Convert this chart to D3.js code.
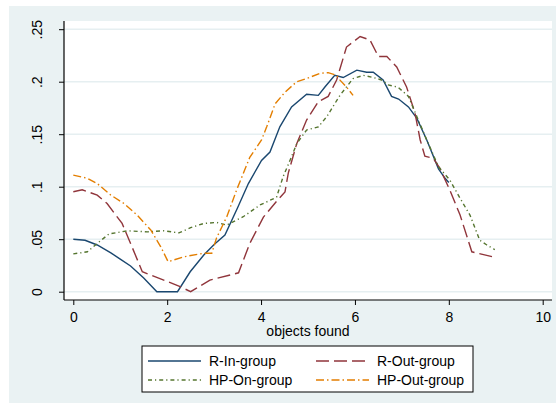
<!DOCTYPE html>
<html>
<head>
<meta charset="utf-8">
<script src="https://cdn.jsdelivr.net/npm/d3@7"></script>
<style>
  body { margin: 0; background: #fff; }
  svg { display: block; font-family: "Liberation Sans", Arial, sans-serif; }
</style>
</head>
<body>
<div id="main"></div>
<script>
// values: density of objects found
const seriesNames = ["R-In-group", "R-Out-group", "HP-On-group", "HP-Out-group"];

const rInX = [0, 0.25, 0.51, 0.8, 1.0, 1.22, 1.5, 1.78, 2.22, 2.49, 2.78, 3.0, 3.23, 3.5, 3.73, 4.01, 4.19, 4.4, 4.65, 4.97, 5.22, 5.36, 5.57, 5.75, 6.04, 6.25, 6.39, 6.6, 6.78, 6.93, 7.14, 7.32, 7.53, 7.78, 7.92, 8.0];
const rInY = [0.05, 0.049, 0.0445, 0.037, 0.031, 0.0245, 0.013, 0, 0, 0.019, 0.035, 0.045, 0.054, 0.08, 0.103, 0.125, 0.133, 0.157, 0.176, 0.188, 0.187, 0.195, 0.206, 0.204, 0.211, 0.209, 0.209, 0.2016, 0.186, 0.1835, 0.176, 0.165, 0.1445, 0.117, 0.108, 0.104];

const rOutX = [0, 0.19, 0.51, 0.72, 1.04, 1.22, 1.47, 2.25, 2.5, 2.91, 3.52, 3.76, 4.05, 4.33, 4.51, 4.58, 4.76, 4.97, 5.22, 5.43, 5.61, 5.82, 6.11, 6.32, 6.5, 6.68, 6.89, 7.1, 7.28, 7.39, 7.49, 7.67, 7.81, 8.02, 8.24, 8.49, 8.98];
const rOutY = [0.0952, 0.097, 0.092, 0.084, 0.065, 0.046, 0.019, 0.0054, 0, 0.011, 0.018, 0.046, 0.071, 0.086, 0.095, 0.113, 0.141, 0.1635, 0.181, 0.186, 0.2016, 0.233, 0.243, 0.2397, 0.224, 0.224, 0.214, 0.195, 0.17, 0.1445, 0.129, 0.127, 0.1175, 0.0969, 0.073, 0.038, 0.0327];

const hpOnX = [0, 0.3, 0.51, 0.76, 1.15, 1.58, 1.93, 2.25, 2.5, 2.78, 3.05, 3.27, 3.62, 3.98, 4.33, 4.47, 4.62, 4.76, 4.97, 5.22, 5.4, 5.68, 5.96, 6.18, 6.39, 6.57, 6.71, 6.92, 7.14, 7.32, 7.53, 7.78, 8.02, 8.24, 8.45, 8.66, 8.81, 8.98];
const hpOnY = [0.036, 0.038, 0.046, 0.055, 0.058, 0.057, 0.058, 0.056, 0.061, 0.065, 0.066, 0.0635, 0.0714, 0.0826, 0.09, 0.1095, 0.1254, 0.141, 0.154, 0.157, 0.1667, 0.187, 0.203, 0.206, 0.204, 0.2016, 0.197, 0.1947, 0.186, 0.1667, 0.1445, 0.119, 0.1064, 0.089, 0.073, 0.049, 0.0445, 0.04];

const hpOutX = [0, 0.3, 0.51, 0.8, 1.08, 1.36, 1.65, 1.86, 2.02, 2.36, 2.78, 2.95, 3.05, 3.27, 3.48, 3.76, 4.01, 4.12, 4.3, 4.51, 4.76, 4.97, 5.26, 5.43, 5.61, 5.65, 5.82, 5.96];
const hpOutY = [0.111, 0.108, 0.103, 0.092, 0.084, 0.073, 0.0588, 0.043, 0.0286, 0.0333, 0.0366, 0.0366, 0.051, 0.0714, 0.097, 0.128, 0.1445, 0.157, 0.179, 0.19, 0.2, 0.203, 0.208, 0.2086, 0.206, 0.203, 0.195, 0.187];

const xTicks = [0, 2, 4, 6, 8, 10];
const yTicks = [0, 0.05, 0.1, 0.15, 0.2, 0.25];
const yTickLabels = ["0", ".05", ".1", ".15", ".2", ".25"];
const xTitle = "objects found";

// chart parameters
const width = 556;
const height = 409;
const plot = { left: 64, right: 552, top: 21, bottom: 300 };

const colors = ["#1a476f", "#90353b", "#55752f", "#e37e00"];
const dashes = [null, "13,5", "4,3,1.2,3", "8,3,1.5,3"];

const xScale = d3.scaleLinear().domain([0, 10]).range([73.3, 542.7]);
const yScale = d3.scaleLinear().domain([0, 0.25]).range([291.7, 29.2]);

const svg = d3.select("#main")
  .append("svg")
  .attr("width", width)
  .attr("height", height);

// outer graph region
svg.append("rect")
  .attr("x", 9).attr("y", 6)
  .attr("width", width - 9).attr("height", 397)
  .attr("fill", "#eaf2f3");

// plot region
svg.append("rect")
  .attr("x", plot.left).attr("y", plot.top)
  .attr("width", plot.right - plot.left).attr("height", plot.bottom - plot.top)
  .attr("fill", "#fff");

// gridlines
svg.append("g")
  .selectAll("line")
  .data(yTicks)
  .enter()
  .append("line")
  .attr("x1", plot.left).attr("x2", plot.right)
  .attr("y1", d => yScale(d)).attr("y2", d => yScale(d))
  .attr("stroke", "#e6eff1")
  .attr("stroke-width", 1.5);

// series lines
const seriesData = [
  rInX.map((x, i) => [x, rInY[i]]),
  rOutX.map((x, i) => [x, rOutY[i]]),
  hpOnX.map((x, i) => [x, hpOnY[i]]),
  hpOutX.map((x, i) => [x, hpOutY[i]])
];

const line = d3.line()
  .x(d => xScale(d[0]))
  .y(d => yScale(d[1]));

svg.append("g")
  .selectAll("path")
  .data(seriesData)
  .enter()
  .append("path")
  .attr("d", line)
  .attr("fill", "none")
  .attr("stroke", (d, i) => colors[i])
  .attr("stroke-width", 1.4)
  .attr("stroke-dasharray", (d, i) => dashes[i]);

// axes
const yAxis = d3.axisLeft(yScale)
  .tickValues(yTicks)
  .tickFormat((d, i) => yTickLabels[i])
  .tickSize(5)
  .tickSizeOuter(0);

svg.append("g")
  .attr("transform", `translate(${plot.left}, 0)`)
  .call(yAxis)
  .call(g => g.select(".domain").attr("d", `M0,${plot.top}V${plot.bottom}`).attr("stroke", "#000").attr("stroke-width", 1.2))
  .call(g => g.selectAll(".tick line").attr("stroke", "#000"))
  .call(g => g.selectAll(".tick text")
    .attr("x", null).attr("dy", null)
    .attr("text-anchor", "middle")
    .attr("transform", "translate(-22, 0) rotate(-90)")
    .attr("fill", "#000")
    .style("font-size", "14px")
    .style("font-family", "Liberation Sans, Arial, sans-serif"));

const xAxis = d3.axisBottom(xScale)
  .tickValues(xTicks)
  .tickSize(5)
  .tickSizeOuter(0);

svg.append("g")
  .attr("transform", `translate(0, ${plot.bottom})`)
  .call(xAxis)
  .call(g => g.select(".domain").attr("d", `M${plot.left},0H${plot.right}`).attr("stroke", "#000").attr("stroke-width", 1.2))
  .call(g => g.selectAll(".tick line").attr("stroke", "#000"))
  .call(g => g.selectAll(".tick text")
    .attr("y", 22).attr("dy", null)
    .attr("fill", "#000")
    .style("font-size", "14px")
    .style("font-family", "Liberation Sans, Arial, sans-serif"));

svg.append("text")
  .attr("x", (plot.left + plot.right) / 2)
  .attr("y", 336)
  .attr("text-anchor", "middle")
  .style("font-size", "14px")
  .text(xTitle);

// legend
const legend = svg.append("g");
legend.append("rect")
  .attr("x", 142).attr("y", 346)
  .attr("width", 331).attr("height", 46)
  .attr("fill", "#fff")
  .attr("stroke", "#000")
  .attr("stroke-width", 1);

const legendPos = [[148, 361], [316, 361], [148, 380], [316, 380]];

const items = legend.selectAll("g.item")
  .data(seriesNames)
  .enter()
  .append("g")
  .attr("class", "item")
  .attr("transform", (d, i) => `translate(${legendPos[i][0]}, ${legendPos[i][1]})`);

items.append("line")
  .attr("x1", 0).attr("x2", 53)
  .attr("stroke", (d, i) => colors[i])
  .attr("stroke-width", 1.4)
  .attr("stroke-dasharray", (d, i) => dashes[i]);

items.append("text")
  .attr("x", 61).attr("y", 5)
  .style("font-size", "14px")
  .text(d => d);
</script>
</body>
</html>
